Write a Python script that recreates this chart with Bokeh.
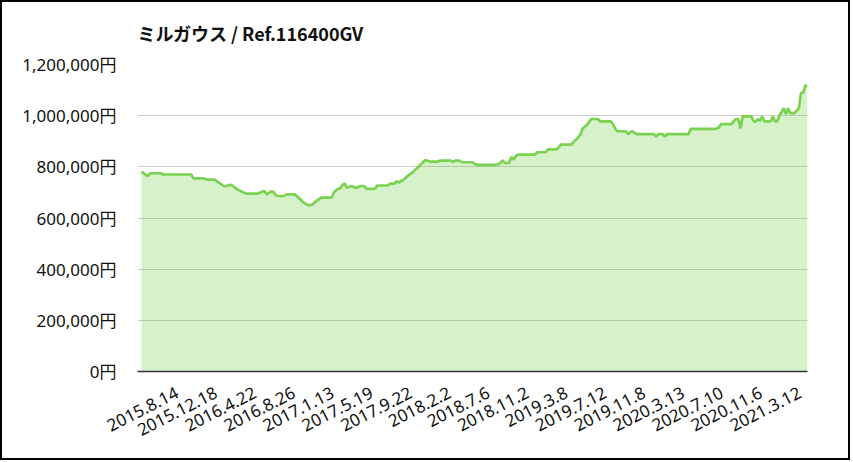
from bokeh.plotting import figure
from bokeh.models import Range1d, FixedTicker, LinearAxis
from bokeh.embed import file_html
from bokeh.resources import INLINE
import math

title_text = "ミルガウス / Ref.116400GV"

x_tick_labels = ["2015.8.14", "2015.12.18", "2016.4.22", "2016.8.26", "2017.1.13",
                 "2017.5.19", "2017.9.22", "2018.2.2", "2018.7.6", "2018.11.2",
                 "2019.3.8", "2019.7.12", "2019.11.8", "2020.3.13", "2020.7.10",
                 "2020.11.6", "2021.3.12"]
label_every = 18

y_ticks = [0, 200000, 400000, 600000, 800000, 1000000, 1200000]
y_tick_labels = ["0円", "200,000円", "400,000円", "600,000円", "800,000円",
                 "1,000,000円", "1,200,000円"]

prices = [
    780000, 775000, 768000, 764000, 775000, 775000, 775000, 775000, 775000, 775000,
    770000, 770000, 770000, 770000, 770000, 770000, 770000, 770000, 770000, 770000,
    770000, 770000, 770000, 770000, 755000, 755000, 755000, 755000, 755000, 755000,
    750000, 750000, 750000, 750000, 750000, 742000, 737000, 731000, 725000, 724000,
    727000, 730000, 727000, 720000, 713000, 709000, 705000, 700000, 697000, 695000,
    695000, 695000, 695000, 695000, 695000, 700000, 704000, 704000, 692000, 698000,
    704000, 702000, 690000, 686000, 686000, 686000, 686000, 692000, 692000, 692000,
    692000, 692000, 684000, 676000, 668000, 660000, 655000, 650000, 650000, 653000,
    660000, 668000, 672000, 680000, 680000, 680000, 680000, 680000, 680000, 700000,
    709000, 713000, 718000, 730000, 734000, 718000, 722000, 725000, 722000, 718000,
    720000, 725000, 725000, 725000, 714000, 714000, 714000, 714000, 714000, 727000,
    727000, 727000, 727000, 727000, 727000, 734000, 734000, 734000, 744000, 738000,
    745000, 748000, 756000, 764000, 770000, 776000, 783000, 792000, 798000, 809000,
    815000, 825000, 825000, 822000, 820000, 820000, 820000, 820000, 824000, 824000,
    824000, 824000, 824000, 824000, 820000, 824000, 824000, 824000, 818000, 818000,
    818000, 818000, 818000, 818000, 812000, 808000, 808000, 808000, 808000, 808000,
    808000, 808000, 808000, 808000, 808000, 810000, 815000, 825000, 815000, 815000,
    815000, 839000, 828000, 840000, 848000, 848000, 848000, 848000, 848000, 848000,
    848000, 848000, 848000, 857000, 857000, 857000, 857000, 857000, 868000, 868000,
    868000, 868000, 868000, 877000, 887000, 887000, 887000, 887000, 887000, 887000,
    900000, 906000, 916000, 926000, 950000, 957000, 964000, 975000, 987000, 987000,
    987000, 987000, 978000, 978000, 978000, 978000, 978000, 978000, 967000, 950000,
    939000, 939000, 939000, 939000, 939000, 928000, 935000, 939000, 932000, 928000,
    928000, 928000, 928000, 928000, 928000, 928000, 928000, 928000, 918000, 928000,
    928000, 928000, 918000, 928000, 928000, 928000, 928000, 928000, 928000, 928000,
    928000, 928000, 928000, 928000, 948000, 948000, 948000, 948000, 948000, 948000,
    948000, 948000, 948000, 948000, 948000, 948000, 950000, 954000, 967000, 967000,
    967000, 967000, 967000, 967000, 980000, 987000, 987000, 950000, 997000, 997000,
    997000, 997000, 997000, 980000, 975000, 987000, 980000, 997000, 978000, 978000,
    978000, 978000, 997000, 978000, 978000, 1000000, 1014000, 1029000, 1006000, 1029000,
    1010000, 1010000, 1010000, 1020000, 1029000, 1088000, 1090000, 1118000, 1118000,
]

idx = list(range(len(prices)))
line_color = "#7ad350"
jp_font = "Noto Sans CJK JP"
num_font = "Noto Sans, Noto Sans CJK JP"

x_start, x_end = -1.85, len(prices) - 1
y_start, y_end = 0, 1200000
label_shift = 16.5  # rotated labels are centred on their point

# canvas inside a 2px black border
p = figure(width=850, height=460, output_backend="svg", toolbar_location=None,
           x_range=Range1d(x_start, x_end), y_range=Range1d(y_start, y_end),
           x_axis_location=None, title=title_text,
           min_border_left=135, min_border_right=45, min_border_top=61,
           min_border_bottom=91)
p.styles = {"border": "2px solid black"}
p.outline_line_color = None
p.background_fill_color = "white"
p.border_fill_color = "white"

p.title.text_font = jp_font
p.title.text_font_size = "18px"
p.title.text_font_style = "bold"
p.title.text_color = "#111111"
p.title.align = "left"
p.title.vertical_align = "top"
p.title.offset = 0
p.title.standoff = 34

p.varea(x=idx, y1=0, y2=prices, fill_color=line_color, fill_alpha=0.3)
p.line(x=idx, y=prices, line_color=line_color, line_width=2.7)

# y axis
p.yaxis.ticker = FixedTicker(ticks=y_ticks)
p.yaxis.major_label_overrides = dict(zip(y_ticks, y_tick_labels))
p.yaxis.axis_line_color = None
p.yaxis.major_tick_line_color = None
p.yaxis.minor_tick_line_color = None
p.yaxis.major_label_standoff = 15
p.yaxis.major_label_text_font = num_font
p.yaxis.major_label_text_font_size = "17px"
p.yaxis.major_label_text_color = "#111111"

# x axis (labels centred on their points)
p.extra_x_ranges = {"labels": Range1d(x_start - label_shift, x_end - label_shift)}
x_ticks = [i * label_every for i in range(len(x_tick_labels))]
xaxis = LinearAxis(x_range_name="labels", ticker=FixedTicker(ticks=x_ticks),
                   major_label_overrides=dict(zip(x_ticks, x_tick_labels)))
xaxis.major_label_orientation = math.radians(27)
xaxis.axis_line_color = "#333333"
xaxis.axis_line_width = 1.5
xaxis.major_tick_line_color = None
xaxis.minor_tick_line_color = None
xaxis.major_label_standoff = 14
xaxis.major_label_text_font = "Noto Sans"
xaxis.major_label_text_font_size = "17px"
xaxis.major_label_text_color = "#111111"
p.add_layout(xaxis, "below")

p.xgrid.grid_line_color = None
p.ygrid.grid_line_color = "#cccccc"
p.ygrid.grid_line_width = 1.2

open("out.html", "w").write(file_html(p, INLINE))
